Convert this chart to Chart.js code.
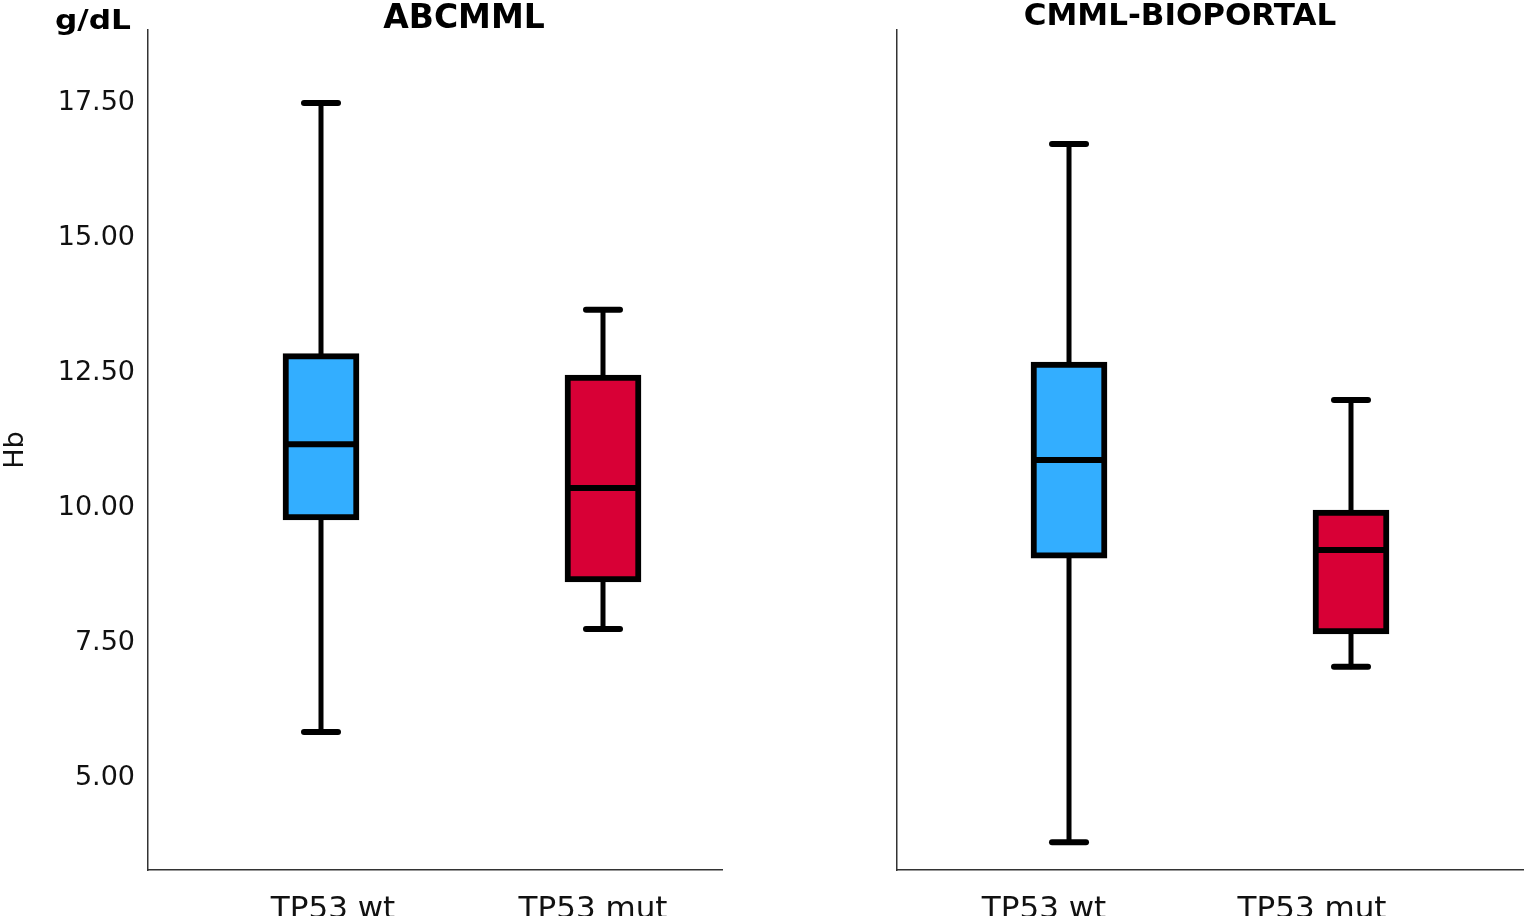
<!DOCTYPE html>
<html>
<head>
<meta charset="utf-8">
<script src="https://cdn.jsdelivr.net/npm/chart.js@4/dist/chart.umd.min.js"></script>
<style>
  html, body { margin:0; padding:0; background:#fff; overflow:hidden; }
  body { width:1524px; height:916px; position:relative; }
  canvas { position:absolute; top:0; }
  .lbl { position:absolute; white-space:nowrap; line-height:1; color:#000; font-family:'DejaVu Sans', sans-serif; font-weight:bold; }
</style>
</head>
<body>
<canvas id="c1" width="760" height="916" style="left:0"></canvas>
<canvas id="c2" width="764" height="916" style="left:760px"></canvas>
<div class="lbl" id="unit" style="left:55px; top:7px; font-size:26px; transform:scaleX(1.2); transform-origin:left top;">g/dL</div>
<div class="lbl" id="t1" style="left:464px; top:0px; font-size:33px; transform:translateX(-50%);">ABCMML</div>
<div class="lbl" id="t2" style="left:1180px; top:-1px; font-size:31px; transform:translateX(-50%);">CMML-BIOPORTAL</div>
<script>
// ---- data ----
const categories = ['TP53 wt', 'TP53 mut'];
const boxColors = ['#33AEFF', '#D80036'];
const yTicks = [5.0, 7.5, 10.0, 12.5, 15.0, 17.5];

const abcmmlMin    = [5.85, 7.76];
const abcmmlQ1     = [9.78, 8.63];
const abcmmlMedian = [11.18, 10.37];
const abcmmlQ3     = [12.86, 12.46];
const abcmmlMax    = [17.50, 13.67];

const bioportalMin    = [3.81, 7.06];
const bioportalQ1     = [9.07, 7.67];
const bioportalMedian = [10.89, 9.22];
const bioportalQ3     = [12.70, 9.96];
const bioportalMax    = [16.74, 12.00];

// ---- plugin: whiskers, caps, medians ----
const boxWhiskers = {
  id: 'boxWhiskers',
  beforeDatasetsDraw(chart, args, opts) {
    const {ctx} = chart, x = chart.scales.x, y = chart.scales.y;
    ctx.save();
    ctx.strokeStyle = '#000';
    ctx.lineCap = 'round';
    opts.min.forEach((mn, i) => {
      const px = x.getPixelForValue(i + 1);
      const pMax = y.getPixelForValue(opts.max[i]);
      const pMin = y.getPixelForValue(mn);
      ctx.lineWidth = 5;
      ctx.beginPath(); ctx.moveTo(px, pMax); ctx.lineTo(px, pMin); ctx.stroke();
      ctx.lineWidth = 6;
      [pMax, pMin].forEach(py => {
        ctx.beginPath(); ctx.moveTo(px - 17, py); ctx.lineTo(px + 17, py); ctx.stroke();
      });
    });
    ctx.restore();
  },
  afterDatasetsDraw(chart, args, opts) {
    const {ctx} = chart, x = chart.scales.x, y = chart.scales.y;
    ctx.save();
    ctx.strokeStyle = '#000';
    ctx.lineWidth = 6;
    opts.median.forEach((md, i) => {
      const px = x.getPixelForValue(i + 1);
      const py = y.getPixelForValue(md);
      ctx.beginPath(); ctx.moveTo(px - 36, py); ctx.lineTo(px + 36, py); ctx.stroke();
    });
    ctx.restore();
  }
};

function makeChart(id, q1, q3, mn, md, mx, xRange, labelRange, yWidth, showY, padRight) {
  return new Chart(document.getElementById(id), {
    type: 'bar',
    data: {
      datasets: [{
        data: categories.map((c, i) => ({x: i + 1, y: [q1[i], q3[i]]})),
        backgroundColor: boxColors,
        borderColor: '#000',
        borderWidth: 6,
        borderSkipped: false,
        barThickness: 76
      }]
    },
    plugins: [boxWhiskers],
    options: {
      responsive: false,
      animation: false,
      layout: { padding: { top: 30, right: padRight, left: 0, bottom: 0 } },
      plugins: {
        legend: { display: false },
        tooltip: { enabled: false },
        boxWhiskers: { min: mn, median: md, max: mx }
      },
      scales: {
        x: {
          type: 'linear',
          position: 'bottom',
          offset: false,
          min: xRange[0], max: xRange[1],
          afterBuildTicks: s => { s.ticks = categories.map((c, i) => ({value: i + 1})); },
          afterFit: s => { s.height = 0; },
          grid: { display: false },
          border: { display: true, color: '#333', width: 1.5 },
          ticks: { display: false }
        },
        xLabels: {
          type: 'linear',
          position: 'bottom',
          offset: false,
          min: labelRange[0], max: labelRange[1],
          afterBuildTicks: s => { s.ticks = categories.map((c, i) => ({value: i + 1})); },
          afterFit: s => { s.height = 46; },
          grid: { display: false },
          border: { display: false },
          ticks: {
            autoSkip: false, maxRotation: 0, padding: 13,
            color: '#111',
            font: { family: 'DejaVu Sans', size: 31 },
            callback: v => categories[Math.round(v) - 1]
          }
        },
        y: {
          type: 'linear',
          min: 3.296, max: 18.852,
          afterBuildTicks: s => { s.ticks = yTicks.map(v => ({value: v})); },
          afterFit: s => { s.width = yWidth; },
          grid: { display: false },
          border: { display: true, color: '#333', width: 1.5 },
          ticks: {
            display: showY, padding: 5, color: '#111',
            font: { family: 'DejaVu Sans', size: 27 },
            callback: v => Number(v).toFixed(2)
          },
          title: {
            display: showY, text: 'Hb', color: '#111', padding: 0,
            font: { family: 'DejaVu Sans', size: 27 }
          }
        }
      }
    }
  });
}

makeChart('c1', abcmmlQ1, abcmmlQ3, abcmmlMin, abcmmlMedian, abcmmlMax,
          [0.3865, 2.422], [0.2885, 2.496], 148, true, 38);
makeChart('c2', bioportalQ1, bioportalQ3, bioportalMin, bioportalMedian, bioportalMax,
          [0.39, 2.6135], [0.4515, 2.791], 137, false, 0);
</script>
</body>
</html>
